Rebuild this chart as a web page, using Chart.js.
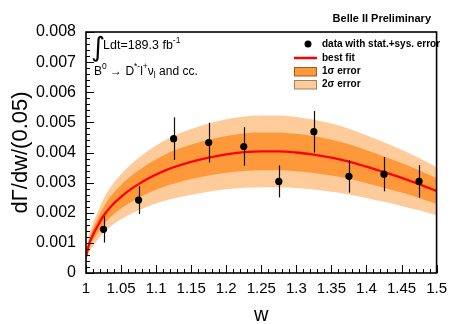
<!DOCTYPE html>
<html>
<head>
<meta charset="utf-8">
<script src="https://cdn.jsdelivr.net/npm/chart.js@4"></script>
<style>
  html, body { margin: 0; padding: 0; background: #fff; }
  canvas { display: block; }
</style>
</head>
<body>
<canvas id="c" width="454" height="324"></canvas>
<script>
// w grid on which the fitted shape and its uncertainty bands are tabulated
const wGrid = [1.000, 1.005, 1.010, 1.0175, 1.025, 1.0375, 1.050, 1.0625, 1.075, 1.0875, 1.100, 1.1125, 1.125,
               1.150, 1.175, 1.200, 1.225, 1.250, 1.275, 1.300, 1.325, 1.350, 1.375, 1.400, 1.425, 1.450, 1.475, 1.500];
const bestFit = [0.000550, 0.001000, 0.001270, 0.001600, 0.001900, 0.002260, 0.002530, 0.002760, 0.002950, 0.003120, 0.003270, 0.003400, 0.003510,
                 0.003690, 0.003830, 0.003940, 0.004010, 0.004040, 0.004040, 0.004000, 0.003930, 0.003830, 0.003700, 0.003530, 0.003350, 0.003160, 0.002950, 0.002720];
const sigma1Low = [0.000465, 0.000845, 0.001073, 0.001352, 0.001606, 0.001910, 0.002138, 0.002332, 0.002493, 0.002636, 0.002763, 0.002873, 0.002966,
                   0.003118, 0.003236, 0.003329, 0.003388, 0.003414, 0.003414, 0.003380, 0.003321, 0.003236, 0.003127, 0.002983, 0.002831, 0.002670, 0.002493, 0.002298];
const sigma1High = [0.000635, 0.001155, 0.001467, 0.001848, 0.002195, 0.002610, 0.002922, 0.003188, 0.003407, 0.003604, 0.003777, 0.003927, 0.004054,
                    0.004262, 0.004424, 0.004551, 0.004632, 0.004666, 0.004666, 0.004620, 0.004539, 0.004424, 0.004274, 0.004077, 0.003869, 0.003650, 0.003407, 0.003142];
const sigma2Low = [0.000388, 0.000705, 0.000895, 0.001128, 0.001340, 0.001593, 0.001784, 0.001946, 0.002080, 0.002200, 0.002305, 0.002397, 0.002475,
                   0.002601, 0.002700, 0.002778, 0.002827, 0.002848, 0.002848, 0.002820, 0.002771, 0.002700, 0.002609, 0.002489, 0.002362, 0.002228, 0.002080, 0.001918];
const sigma2High = [0.000712, 0.001295, 0.001645, 0.002072, 0.002461, 0.002927, 0.003276, 0.003574, 0.003820, 0.004040, 0.004235, 0.004403, 0.004545,
                    0.004779, 0.004960, 0.005102, 0.005193, 0.005232, 0.005232, 0.005180, 0.005089, 0.004960, 0.004792, 0.004571, 0.004338, 0.004092, 0.003820, 0.003522];

// measured bins (bin centres) with total stat.+sys. uncertainty
const dataW = [1.025, 1.075, 1.125, 1.175, 1.225, 1.275, 1.325, 1.375, 1.425, 1.475];
const dataRate = [0.00145, 0.00242, 0.00446, 0.00433, 0.00420, 0.00304, 0.00469, 0.00321, 0.00328, 0.00304];
const dataErr = [0.00044, 0.00046, 0.00071, 0.00066, 0.00064, 0.00053, 0.00069, 0.00054, 0.00057, 0.00054];

// axis tick labels
const xTickLabels = ['1', '1.05', '1.1', '1.15', '1.2', '1.25', '1.3', '1.35', '1.4', '1.45', '1.5'];
const yTickLabels = ['0', '0.001', '0.002', '0.003', '0.004', '0.005', '0.006', '0.007', '0.008'];

const FONT = '"Liberation Sans", Arial, Helvetica, sans-serif';
const C_DARK = 'rgb(253,153,58)';
const C_LIGHT = 'rgb(254,203,155)';
const C_FIT = 'rgb(255,0,0)';

const pts = (ys) => wGrid.map((w, i) => ({ x: w, y: ys[i] }));

function bandSet(ys, fill, color, order) {
  return {
    data: pts(ys), order, fill, backgroundColor: color,
    borderColor: 'transparent', borderWidth: 0, pointRadius: 0,
    cubicInterpolationMode: 'monotone'
  };
}

// error bars, data markers, inward ROOT-style ticks and the frame
const framePlugin = {
  id: 'frame',
  afterDatasetsDraw(chart) {
    const { ctx, chartArea: { left, right, top, bottom }, scales: { x, y } } = chart;
    ctx.save();
    ctx.strokeStyle = '#111';
    ctx.lineWidth = 1.2;
    dataW.forEach((w, i) => {
      const px = Math.round(x.getPixelForValue(w)) + 0.5;
      ctx.beginPath();
      ctx.moveTo(px, y.getPixelForValue(dataRate[i] - dataErr[i]));
      ctx.lineTo(px, y.getPixelForValue(dataRate[i] + dataErr[i]));
      ctx.stroke();
    });
    ctx.fillStyle = '#000';
    dataW.forEach((w, i) => {
      ctx.beginPath();
      ctx.arc(x.getPixelForValue(w), y.getPixelForValue(dataRate[i]), 3.6, 0, Math.PI * 2);
      ctx.fill();
    });

    ctx.strokeStyle = '#000';
    ctx.lineWidth = 1;
    for (let i = 0; i <= 50; i++) {
      const px = Math.round(x.getPixelForValue(1 + i * 0.01)) + 0.5;
      const len = i % 5 === 0 ? 8 : 4;
      ctx.beginPath(); ctx.moveTo(px, bottom); ctx.lineTo(px, bottom - len); ctx.stroke();
    }
    for (let i = 0; i <= 40; i++) {
      const py = Math.round(y.getPixelForValue(i * 0.0002)) + 0.5;
      const len = i % 5 === 0 ? 8 : 4;
      ctx.beginPath(); ctx.moveTo(left, py); ctx.lineTo(left + len, py); ctx.stroke();
    }
    ctx.lineWidth = 1.6;
    ctx.strokeRect(left, top, right - left, bottom - top);
    ctx.restore();
  }
};

function drawRuns(ctx, x, y, runs) {
  let cx = x;
  runs.forEach(r => {
    ctx.font = (r.bold ? 'bold ' : '') + r.size + 'px ' + (r.family || FONT);
    ctx.fillText(r.t, cx, y + (r.dy || 0));
    cx += ctx.measureText(r.t).width + (r.gap || 0);
  });
}

// header, process label and legend
const textPlugin = {
  id: 'texts',
  afterDraw(chart) {
    const { ctx } = chart;
    ctx.save();
    ctx.fillStyle = '#000';
    ctx.textBaseline = 'middle';

    ctx.textAlign = 'right';
    ctx.font = 'bold 11px ' + FONT;
    ctx.fillText('Belle II Preliminary', 431, 19);

    ctx.textAlign = 'left';
    ctx.font = '27px "DejaVu Sans"';
    ctx.fillText('\u222B', 91, 49);
    drawRuns(ctx, 103, 46, [
      { t: 'Ldt=189.3 fb', size: 12.5 },
      { t: '-1', size: 8.5, dy: -5 }
    ]);
    drawRuns(ctx, 94, 72, [
      { t: 'B', size: 12 },
      { t: '0', size: 8.5, dy: -5 },
      { t: ' \u2192 D', size: 12 },
      { t: '*-', size: 8.5, dy: -5 },
      { t: 'l', size: 12 },
      { t: '+', size: 8.5, dy: -5 },
      { t: '\u03BD', size: 12 },
      { t: 'l', size: 8.5, dy: 4 },
      { t: ' and cc.', size: 12 }
    ]);

    // legend
    ctx.beginPath();
    ctx.arc(308, 44, 3.5, 0, Math.PI * 2);
    ctx.fill();
    ctx.strokeStyle = C_FIT;
    ctx.lineWidth = 2.5;
    ctx.beginPath(); ctx.moveTo(294, 58); ctx.lineTo(317, 58); ctx.stroke();
    ctx.fillStyle = C_DARK;
    ctx.fillRect(294.5, 67.5, 22, 8.5);
    ctx.strokeStyle = '#a05a20';
    ctx.lineWidth = 1;
    ctx.strokeRect(294.5, 67.5, 22, 8.5);
    ctx.fillStyle = C_LIGHT;
    ctx.fillRect(294.5, 80.5, 22, 8.5);
    ctx.strokeStyle = '#a08060';
    ctx.strokeRect(294.5, 80.5, 22, 8.5);

    ctx.fillStyle = '#000';
    ctx.font = 'bold 10px ' + FONT;
    ctx.fillText('data with stat.+sys. error', 322, 44.5);
    ctx.fillText('best fit', 322, 58);
    ctx.fillText('1\u03C3 error', 322, 71.5);
    ctx.fillText('2\u03C3 error', 322, 84.5);
    ctx.restore();
  }
};

new Chart(document.getElementById('c'), {
  type: 'line',
  data: {
    datasets: [
      bandSet(sigma2Low, false, C_LIGHT, 5),
      bandSet(sigma2High, '-1', C_LIGHT, 4),
      bandSet(sigma1Low, false, C_DARK, 3),
      bandSet(sigma1High, '-1', C_DARK, 2),
      {
        data: pts(bestFit), order: 1, fill: false,
        borderColor: C_FIT, borderWidth: 2.3, pointRadius: 0,
        cubicInterpolationMode: 'monotone'
      }
    ]
  },
  options: {
    responsive: false,
    animation: false,
    devicePixelRatio: 1,
    layout: { padding: { top: 32, right: 12.5, bottom: 0, left: 0 } },
    plugins: { legend: { display: false }, tooltip: { enabled: false }, title: { display: false } },
    scales: {
      x: {
        type: 'linear', min: 1, max: 1.5,
        afterFit: (s) => { s.height = 51; },
        grid: { display: false, drawTicks: false },
        border: { display: false },
        ticks: {
          stepSize: 0.05, padding: 7, color: '#000', maxRotation: 0, autoSkip: false,
          font: { family: FONT, size: 15 },
          callback: (v, i) => xTickLabels[i]
        },
        title: {
          display: true, text: 'w', color: '#000',
          font: { family: FONT, size: 20, lineHeight: 0.9 },
          padding: { top: 0, bottom: 0 }
        }
      },
      y: {
        type: 'linear', min: 0, max: 0.008,
        afterFit: (s) => { s.width = 86; },
        grid: { display: false, drawTicks: false },
        border: { display: false },
        ticks: {
          stepSize: 0.001, padding: 10, color: '#000',
          font: { family: FONT, size: 16 },
          callback: (v, i) => yTickLabels[i]
        },
        title: {
          display: true, text: 'd\u0393/dw/(0.05)', color: '#000',
          font: { family: FONT, size: 22, lineHeight: 1.2 },
          padding: { top: 8, bottom: 0 }
        }
      }
    }
  },
  plugins: [framePlugin, textPlugin]
});
</script>
</body>
</html>
